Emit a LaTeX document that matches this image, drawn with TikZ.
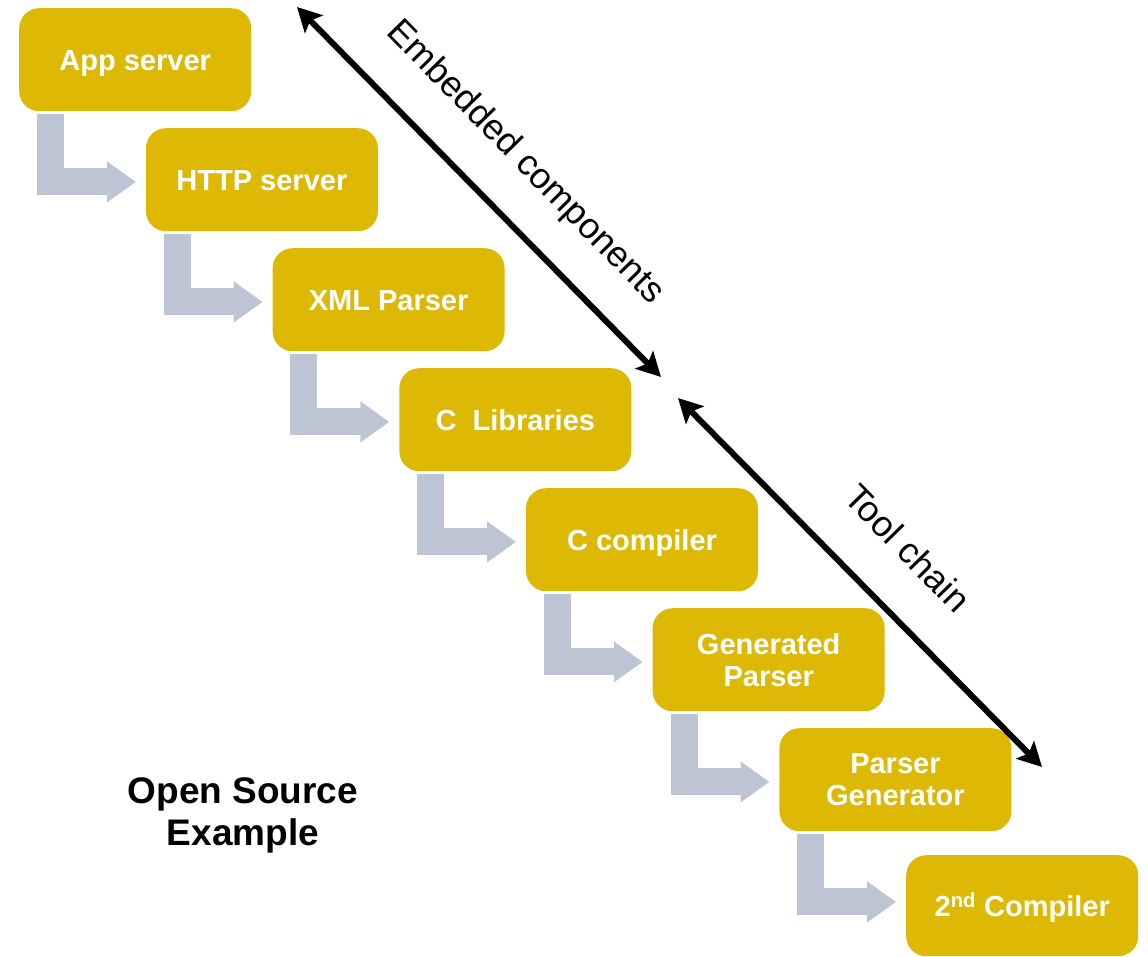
\documentclass[tikz,border=0pt]{standalone}
\usepackage{fontspec}
\setmainfont{Liberation Sans}
\usetikzlibrary{arrows.meta,calc}

\definecolor{boxgold}{RGB}{221,185,6}
\definecolor{flowgray}{RGB}{189,196,211}

\tikzset{
  stagebox/.style={rectangle, rounded corners=20pt, fill=boxgold, draw=none,
    minimum width=232pt, minimum height=103pt, inner sep=0pt, anchor=north west,
    text=white, align=center, font=\fontsize{29}{32}\selectfont\bfseries},
  oneline/.style={text height=21pt, text depth=0pt},
  flowarrow/.style={draw=flowgray, line width=27pt, line join=miter, line cap=butt,
    -{Triangle[length=29pt,width=39pt]}},
  scopearrow/.style={draw=black, line width=6pt,
    {Stealth[length=24pt,width=25pt,inset=5pt]}-{Stealth[length=24pt,width=25pt,inset=5pt]}},
  scopelabel/.style={font=\fontsize{36}{40}\selectfont, rotate=-45.6, inner sep=0pt},
}

\begin{document}
\begin{tikzpicture}[x=1pt,y=-1pt]
  \useasboundingbox (0,0) rectangle (1148,956);

  % the stack of components
  \node[stagebox, oneline] (app)  at (19,8)      {App server};
  \node[stagebox, oneline] (http) at (145.7,128) {HTTP server};
  \node[stagebox, oneline] (xml)  at (272.4,248) {XML Parser};
  \node[stagebox, oneline] (clib) at (399.1,368) {C\ \ Libraries};
  \node[stagebox, oneline] (cc)   at (525.8,488) {C compiler};
  \node[stagebox] (gen)  at (652.5,608) {Generated\\Parser};
  \node[stagebox] (pg)   at (779.2,728) {Parser\\Generator};
  \node[stagebox, oneline, minimum height=101pt] (cc2) at (906,855) {2\textsuperscript{nd} Compiler};

  % bent arrows from each component down to the next one
  \foreach \a/\b in {app/http, http/xml, xml/clib, clib/cc, cc/gen, gen/pg, pg/cc2}{
    \draw[flowarrow] ($(\a.south west)+(31.5,3)$) |- ($(\a.south west)+(117,70.5)$);
  }

  % scope arrows
  \coordinate (embA) at (297,7);
  \coordinate (embB) at (661,377);
  \coordinate (toolA) at (678,398);
  \coordinate (toolB) at (1042,767);
  \draw[scopearrow] (embA) -- (embB);
  \draw[scopearrow] (toolA) -- (toolB);
  \node[scopelabel] (embtxt) at (525,163) {Embedded components};
  \node[scopelabel] (tooltxt) at (908,548) {Tool chain};

  % caption
  \node[font=\fontsize{37}{42}\selectfont\bfseries, align=center] (caption) at (243,815)
    {Open Source\\Example};
\end{tikzpicture}
\end{document}
